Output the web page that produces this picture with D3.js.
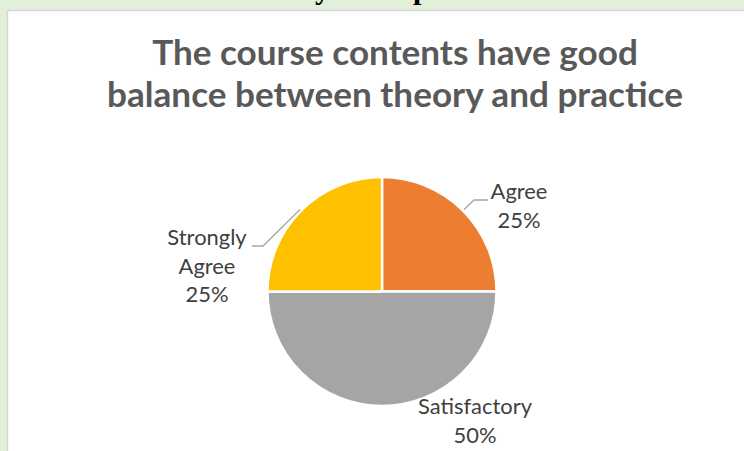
<!DOCTYPE html>
<html>
<head>
<meta charset="utf-8">
<script src="https://cdn.jsdelivr.net/npm/d3@7"></script>
<style>
  html, body { margin: 0; padding: 0; background: #E2EFDA; }
  svg { display: block; }
</style>
</head>
<body>
<svg id="chart" width="744" height="451"></svg>
<script>
// Survey answers for one statement
const categories = ["Agree", "Satisfactory", "Strongly Agree"];
const values = [25, 50, 25];
const percentLabels = ["25%", "50%", "25%"];
const sliceColors = ["#ED7D31", "#A5A5A5", "#FFC000"];
const titleLines = ["The course contents have good", "balance between theory and practice"];

const svg = d3.select("#chart");
const W = 744, H = 451;

// page heading above the chart frame (only the descenders reach below the top edge)
const heading = svg.append("g")
  .attr("font-family", "'Liberation Serif', 'Times New Roman', serif")
  .attr("font-weight", "bold")
  .attr("font-size", 30)
  .attr("fill", "#000");
heading.append("text").attr("x", 315).attr("y", -1).text("y");
heading.append("text").attr("x", 413).attr("y", -1).text("p");

// chart frame
svg.append("rect")
  .attr("x", 7.5).attr("y", 10.5)
  .attr("width", W).attr("height", H)
  .attr("fill", "#FFFFFF")
  .attr("stroke", "#D6D6D6")
  .attr("stroke-width", 1.5);

// title
const title = svg.append("text")
  .attr("text-anchor", "middle")
  .attr("font-family", "Lato, 'Open Sans', sans-serif")
  .attr("font-weight", "bold")
  .attr("fill", "#595959")
  .attr("font-size", 30);
const tl = title.selectAll("tspan").data(titleLines).join("tspan")
  .attr("x", 395)
  .attr("y", (d, i) => 65 + i * 42)
  .text(d => d);
// size title so its second line spans the intended width
const w2 = tl.nodes()[1].getComputedTextLength();
title.attr("font-size", 30 * 576 / w2);

// pie
const cx = 382, cy = 291.5, R = 114.5;
const pie = d3.pie().sort(null).value(d => d)(values);
const arc = d3.arc().innerRadius(0).outerRadius(R);
const g = svg.append("g").attr("transform", `translate(${cx},${cy})`);
g.selectAll("path").data(pie).join("path")
  .attr("d", arc)
  .attr("fill", (d, i) => sliceColors[i])
  .attr("stroke", "#FFFFFF")
  .attr("stroke-width", 2.5)
  .attr("stroke-linejoin", "round");

// data labels
const labelFont = "Lato, 'Open Sans', sans-serif";
const labelColor = "#404040";
const labelLayout = [
  { lines: [categories[0], percentLabels[0]], x: 519, y: 199 },
  { lines: [categories[1], percentLabels[1]], x: 475, y: 414 },
  { lines: ["Strongly", "Agree", percentLabels[2]], x: 207, y: 245 }
];

const labels = svg.append("g")
  .attr("font-family", labelFont)
  .attr("fill", labelColor)
  .attr("text-anchor", "middle")
  .attr("font-size", 20);

labelLayout.forEach(L => {
  labels.append("text")
    .selectAll("tspan").data(L.lines).join("tspan")
    .attr("x", L.x)
    .attr("y", (d, k) => L.y + k * 28.5)
    .text(d => d);
});

// fit label size from the widest word
const probe = labels.append("text").text(categories[1]);
const pw = probe.node().getComputedTextLength();
probe.remove();
labels.attr("font-size", 20 * 114 / pw);

// leader lines from slice edge to labels
const leader = d3.line();
const edgePoint = (d) => {
  const a = (d.startAngle + d.endAngle) / 2;
  return [cx + Math.sin(a) * (R + 1.5), cy - Math.cos(a) * (R + 1.5)];
};
const p0 = edgePoint(pie[0]);
const p2 = edgePoint(pie[2]);
svg.append("path")
  .attr("d", leader([p0, [p0[0] + 10, 200], [488, 200]]))
  .attr("fill", "none").attr("stroke", "#A6A6A6").attr("stroke-width", 1.3);
svg.append("path")
  .attr("d", leader([p2, [263, 246], [252, 246]]))
  .attr("fill", "none").attr("stroke", "#A6A6A6").attr("stroke-width", 1.3);
</script>
</body>
</html>
